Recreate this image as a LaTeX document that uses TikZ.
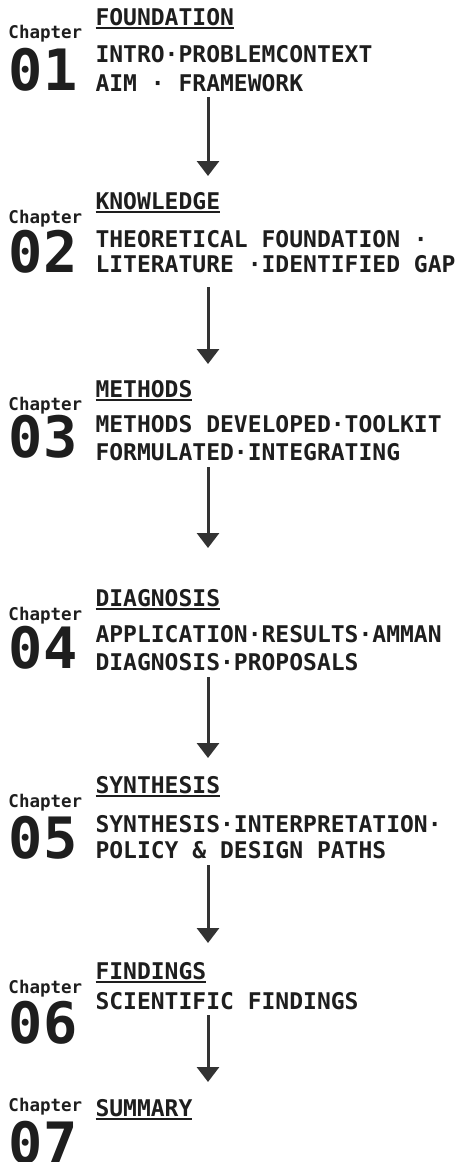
\documentclass[tikz,border=0pt]{standalone}
\usepackage{fontspec}
\setmonofont{DejaVu Sans Mono}
\usetikzlibrary{arrows.meta}
\definecolor{ink}{HTML}{1E1E1E}
\definecolor{arrowgray}{HTML}{333333}
% chapter label, number and underlined heading
% #1 id, #2 number, #3 heading, #4 y heading, #5 y "Chapter", #6 y number
\newcommand{\chapterblock}[6]{%
  \node[head] (t#1) at (95.5,#4) {#3};
  \draw[uline] ([yshift=-3pt]t#1.base west) -- ([yshift=-3pt]t#1.base east);
  \node[chap] (c#1) at (8.5,#5) {Chapter};
  \node[num] (n#1) at (9,#6) {#2};
}
\begin{document}
\begin{tikzpicture}[x=1pt,y=-1pt,
  every node/.style={inner sep=0pt, outer sep=0pt, anchor=base west, text=ink},
  chap/.style={font=\ttfamily\bfseries\fontsize{17.5}{17.5}\selectfont},
  num/.style={font=\ttfamily\bfseries\fontsize{57}{57}\selectfont},
  head/.style={font=\ttfamily\bfseries\fontsize{23}{23}\selectfont},
  body/.style={font=\ttfamily\bfseries\fontsize{23}{23}\selectfont},
  uline/.style={draw=ink, line width=1.6pt},
  flow/.style={draw=arrowgray, line width=3pt, -{Triangle[width=22pt,length=15pt]}}]
\useasboundingbox (0,0) rectangle (457,1162);

% Chapter 01
\chapterblock{1}{01}{FOUNDATION}{25}{38}{90}
\node[body] (b1a) at (95.5,62) {INTRO·PROBLEMCONTEXT};
\node[body] (b1b) at (95.5,91) {AIM · FRAMEWORK};

% Chapter 02
\chapterblock{2}{02}{KNOWLEDGE}{209}{223}{272}
\node[body] (b2a) at (95.5,247) {THEORETICAL FOUNDATION ·};
\node[body] (b2b) at (95.5,272) {LITERATURE ·IDENTIFIED GAP};

% Chapter 03
\chapterblock{3}{03}{METHODS}{397}{410}{457}
\node[body] (b3a) at (95.5,432) {METHODS DEVELOPED·TOOLKIT};
\node[body] (b3b) at (95.5,460) {FORMULATED·INTEGRATING};

% Chapter 04
\chapterblock{4}{04}{DIAGNOSIS}{606}{620}{668}
\node[body] (b4a) at (95.5,642) {APPLICATION·RESULTS·AMMAN};
\node[body] (b4b) at (95.5,670) {DIAGNOSIS·PROPOSALS};

% Chapter 05
\chapterblock{5}{05}{SYNTHESIS}{793}{807}{858}
\node[body] (b5a) at (95.5,832) {SYNTHESIS·INTERPRETATION·};
\node[body] (b5b) at (95.5,858) {POLICY \& DESIGN PATHS};

% Chapter 06
\chapterblock{6}{06}{FINDINGS}{979}{993}{1043}
\node[body] (b6a) at (95.5,1009) {SCIENTIFIC FINDINGS};

% Chapter 07
\chapterblock{7}{07}{SUMMARY}{1116}{1111}{1163}

% flow arrows between chapters
\coordinate (s1) at (208,97);   \coordinate (e1) at (208,176);
\coordinate (s2) at (208,287);  \coordinate (e2) at (208,364);
\coordinate (s3) at (208,467);  \coordinate (e3) at (208,548);
\coordinate (s4) at (208,677);  \coordinate (e4) at (208,758);
\coordinate (s5) at (208,865);  \coordinate (e5) at (208,943);
\coordinate (s6) at (208,1015); \coordinate (e6) at (208,1082);
\foreach \i in {1,...,6} \draw[flow] (s\i) -- (e\i);
\end{tikzpicture}
\end{document}
